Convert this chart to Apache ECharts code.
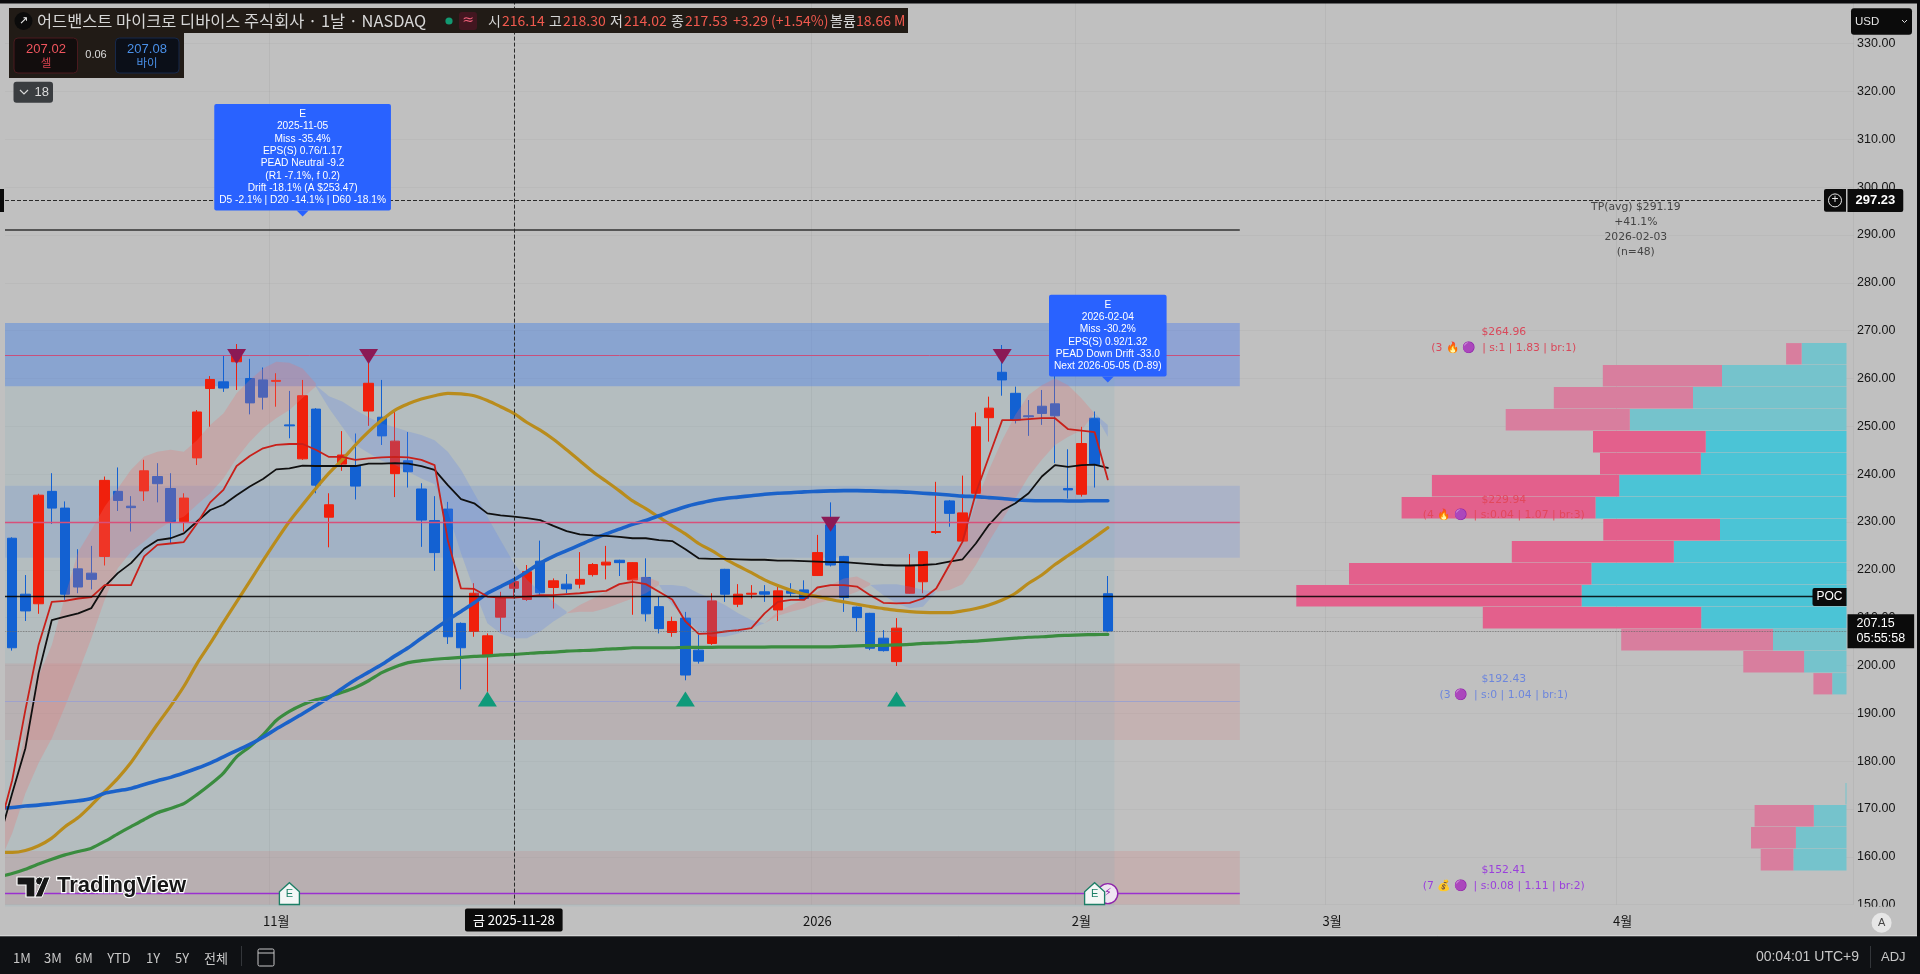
<!DOCTYPE html>
<html><head><meta charset="utf-8"><style>html,body{margin:0;padding:0;background:#c0c0c0;overflow:hidden}#c{width:1920px;height:974px}</style>
<script src="https://cdn.jsdelivr.net/npm/echarts@6/dist/echarts.min.js"></script></head><body><div id="c"></div>
<script>
// Values: prices. Trading-day index 0 = 2025-10-06; ordinal = index + 1.
const tickLabels = {21:'11월',62:'2026',82:'2월',101:'3월',123:'4월'};
const priceTicks = {min:150,max:340,step:10};
// [open, close, low, high]
const candles = [
[226.6,203.7,203.1,226.8],[214.9,211.4,209.3,218.9],[212.9,235.6,210.8,235.9],[236.4,232.9,229.6,240.2],[232.9,214.9,213.7,234.3],
[220.2,216.4,215.1,224.3],[219.3,218.0,215.9,225.0],[222.8,238.7,220.9,239.5],[236.4,234.5,232.3,241.4],[233.3,233.0,228.0,235.4],
[236.5,240.7,234.4,243.0],[239.5,238.0,234.1,242.3],[237.0,230.1,225.5,240.2],[230.1,235.0,228.0,236.0],[243.4,253.0,241.9,253.4],
[257.9,259.8,249.9,260.5],[259.3,258.0,257.2,264.7],[263.5,264.9,257.6,267.2],[260.0,254.9,252.5,264.1],[259.7,256.1,253.5,262.3],
[259.4,259.6,254.1,261.1],[250.3,250.1,247.5,257.4],[243.2,256.4,243.0,259.7],[253.6,237.7,236.0,253.8],[231.0,233.6,224.7,236.0],
[242.1,244.0,240.7,249.0],[241.7,237.5,234.7,248.5],[253.2,259.0,250.1,264.0],[251.9,248.0,246.1,259.7],[240.1,246.9,235.2,253.4],
[242.8,240.5,237.2,248.8],[236.9,230.4,224.8,238.1],[230.3,223.6,219.8,235.4],[232.7,206.0,204.5,234.2],[208.8,203.7,195.0,209.0],
[207.1,215.1,206.0,217.2],[202.0,206.2,194.5,206.7],[210.1,214.2,207.1,215.4],[216.14,217.53,214.02,218.30],[213.8,219.6,213.5,221.0],
[221.8,215.2,214.7,226.1],[216.3,217.7,211.9,218.2],[217.0,216.0,215.1,219.1],[217.0,218.0,216.1,223.7],[219.0,221.1,218.6,221.4],
[221.0,221.6,218.0,225.0],[222.0,221.5,218.7,222.1],[217.9,221.5,210.6,221.6],[218.4,210.8,209.2,222.4],[212.3,207.7,206.7,214.4],
[206.9,209.2,206.0,210.2],[209.9,198.0,196.9,211.2],[203.2,200.9,200.4,206.4],[204.6,213.5,204.3,215.1],[220.1,214.9,213.3,220.2],
[212.8,214.9,212.2,217.0],[214.9,215.1,214.0,216.8],[215.4,214.9,213.3,216.8],[211.6,215.6,209.3,216.5],[215.6,215.1,214.4,217.2],
[215.8,214.0,213.7,217.8],[218.8,223.6,218.7,227.3],[229.4,221.0,220.7,234.1],[222.8,214.2,211.2,222.9],[212.2,210.0,207.1,212.3],
[210.9,203.6,203.2,211.0],[205.7,203.1,202.9,207.4],[200.8,207.8,199.9,209.9],[215.1,220.9,215.0,223.3],[217.5,223.8,215.1,223.9],
[227.8,228.0,227.5,238.4],[234.4,231.8,229.0,234.6],[226.0,231.9,225.8,239.7],[236.0,249.9,235.6,252.9],[251.8,253.8,246.8,256.2],
[261.3,259.7,256.4,267.0],[256.9,251.3,250.6,258.3],[252.2,252.0,248.0,255.5],[254.2,252.7,250.3,257.6],[254.7,252.2,242.3,260.7],
[237.0,236.7,234.9,245.2],[235.8,246.4,235.3,249.9],[251.7,242.0,237.2,253.1],[215.0,207.2,207.0,218.7]];
// moving lines, first value at index -1
const redLine = [165.6,176.0,190.7,204.3,213.3,213.5,214.0,214.3,216.8,216.8,216.8,222.8,225.2,225.5,225.8,229.7,234.1,236.7,241.7,243.8,245.4,246.1,246.3,246.3,245.1,243.6,243.6,243.0,243.3,243.5,243.6,243.5,243.0,241.9,226.2,216.1,216.0,214.4,214.2,214.2,214.4,214.7,214.7,214.9,215.1,215.4,215.6,217.0,217.5,
217.0,215.4,213.8,209.2,206.6,206.7,207.1,207.4,207.8,210.9,213.3,213.7,213.7,216.3,216.8,216.8,216.5,214.7,213.1,213.0,213.1,214.0,216.1,221.0,225.9,236.0,243.7,251.3,251.3,251.5,251.7,251.7,249.4,249.1,248.8,238.9];
const blackLine = [163.5,173.3,182.7,198.4,209.5,210.2,210.9,212.0,216.5,219.3,221.4,224.4,226.2,226.6,227.6,230.1,232.5,233.6,235.6,237.4,239.0,241.0,241.2,241.8,241.7,241.7,241.7,241.7,242.2,242.2,242.3,242.2,241.7,240.9,237.7,234.8,233.9,231.8,231.4,231.1,230.8,230.4,229.2,228.1,227.4,227.2,227.1,226.9,226.6,
226.6,226.2,226.0,224.3,222.4,222.3,222.3,222.2,222.1,222.1,221.9,221.9,221.8,221.7,221.6,221.6,221.4,221.2,221.0,220.9,220.9,221.0,221.2,221.7,222.2,225.5,229.4,232.4,233.9,236.0,239.5,241.9,241.5,241.9,242.0,241.3];
const blueLine = [170.2,170.3,170.6,170.8,171.1,171.4,171.7,172.2,173.3,173.8,174.3,175.1,175.9,176.6,177.5,178.5,179.6,180.9,182.2,183.5,185.0,186.7,188.3,189.9,191.6,193.3,195.2,197.0,198.6,200.2,202.0,203.7,205.7,207.6,209.5,211.3,213.1,215.1,216.5,217.9,219.6,221.4,222.8,224.0,225.2,226.4,227.5,228.5,229.5,
230.3,231.3,232.3,233.2,233.9,234.5,234.9,235.2,235.5,235.8,236.0,236.1,236.3,236.4,236.5,236.55,236.55,236.5,236.4,236.35,236.2,236.0,235.85,235.65,235.4,235.3,235.1,234.9,234.65,234.5,234.45,234.45,234.4,234.4,234.45,234.45];
const goldLine = [160.9,160.9,161.3,162.3,163.9,166.3,168.2,170.8,173.6,176.4,179.7,183.7,187.7,191.5,195.6,200.4,204.6,209.0,213.3,217.6,221.9,226.1,230.1,233.6,237.0,240.2,243.0,246.1,248.9,251.3,253.4,254.7,255.7,256.4,256.9,256.8,256.4,255.4,254.1,252.7,250.8,249.2,247.3,245.1,242.8,240.5,238.5,236.5,234.4,
232.8,231.0,229.2,227.5,225.5,224.0,222.3,220.8,219.4,217.9,216.7,215.7,214.9,214.4,213.8,213.3,212.8,212.3,211.9,211.5,211.25,211.1,211.05,211.05,211.4,211.9,212.65,213.7,215.1,217.2,218.9,221.1,223.0,224.85,226.8,228.8];
const greenLine = [155.8,156.5,157.4,158.5,159.5,160.4,161.1,161.8,163.2,164.8,166.3,167.8,169.2,170.1,171.1,173.0,175.1,177.5,180.9,183.0,185.5,188.5,190.4,191.8,192.8,193.5,194.4,195.4,196.8,198.5,199.7,200.6,201.0,201.3,201.5,201.7,201.9,202.0,202.2,202.3,202.5,202.7,202.8,203.0,203.1,203.2,203.4,203.5,203.7,
203.7,203.7,203.7,203.8,203.8,203.8,203.85,203.85,203.85,203.85,203.9,203.9,203.9,203.9,203.9,204.0,204.1,204.15,204.2,204.3,204.4,204.6,204.7,204.8,205.0,205.1,205.3,205.5,205.7,205.9,206.0,206.2,206.3,206.4,206.45,206.5];
// ribbons: first index, upper edge, lower edge, tone
const ribbonStarts = [-1,23,42,49,57,65,70,82];
const ribbonTones  = ['up','down','up','down','up','down','up','down'];
const ribbonUppers = [
[164.9,172.6,186.5,197.7,204.3,214.4,223.8,228.3,233.2,237.0,240.9,243.7,244.7,245.1,244.7,247.1,250.3,252.7,256.9,259.7,262.1,263.5,263.3,262.1,259.0],
[258.6,256.3,255.2,253.4,251.9,250.6,249.8,248.9,248.2,247.1,244.7,240.9,236.0,231.1,226.2,221.4,217.9,215.4,213.3,211.3],
[210.9,212.65,214.0,215.4,216.8,218.2,218.6,217.5],
[216.8,216.8,216.5,215.1,214.0,212.65,210.9,209.5,208.8],
[208.8,211.25,212.65,213.7,215.4,216.8,218.2,218.6,217.2],
[216.8,217.0,217.0,216.5,215.8,215.4],
[215.4,222.0,225.5,233.9,240.9,247.1,252.4,256.55,258.6,260.0,258.6,255.85,252.7],
[252.7,250.3]];
const ribbonLowers = [
[158.6,164.9,173.3,179.6,184.8,191.4,198.4,205.7,213.7,220.3,223.8,225.9,228.3,230.1,231.1,233.6,236.0,239.1,243.3,246.8,249.6,251.7,253.4,255.9,258.3],
[258.3,253.8,249.9,246.1,244.4,242.8,241.9,240.5,239.1,237.9,232.2,223.45,215.8,208.8,206.7,205.7,205.7,207.1,209.2,210.9],
[210.9,211.25,211.25,211.95,213.0,214.0,215.1,216.8],
[216.8,212.65,209.9,207.1,206.0,206.0,206.7,207.8,208.8],
[208.8,210.4,211.25,211.95,213.0,213.7,214.4,215.4,216.8],
[216.8,214.7,213.0,211.95,212.3,215.4],
[215.4,215.8,217.0,221.0,225.9,230.4,234.9,239.5,243.0,246.1,247.8,249.2,252.7],
[252.7,247.8]];
// zones and levels
const zoneTop = {hi:271.6,lo:258.4}, zoneMid = {hi:237.6,lo:222.5}, zoneLow = {hi:200.4,lo:184.4}, zoneBase = {hi:161.2,lo:149.6};
const levels = {tp:291.19,res1:264.96,res2:229.94,sup1:192.43,sup2:152.41,poc:214.4,last:207.15,cross:297.23};
// volume profile rows
const vpBinTop  = [267.4,262.8,258.2,253.6,249.0,244.4,239.8,235.2,230.6,226.0,221.4,216.8,212.2,207.6,203.0,198.4,175.4,170.8,166.2,161.6];
const vpBinSize = 4.6;
const vpBuy     = [44.9,124.5,153.5,216.7,140.8,145.7,227.3,251,126.5,172.7,255.1,264.9,145.3,73.5,42.4,14.3,1,32.7,50.6,53.1];
const vpSell    = [15.5,119.2,139.2,124.1,112.7,100.8,187.3,193.9,116.7,162,242.4,285.3,218.4,151.8,60.8,18.8,0,59.2,44.9,32.7];
const vpInValueArea = [0,0,0,0,1,1,1,1,1,1,1,1,1,0,0,0,0,0,0,0];
// signals
const sellSignals = [[17,264.6],[27,264.6],[75,264.6],[62,229.5]];
const buySignals  = [[36,193.0],[51,193.0],[67,193.0]];
const earningsIdx = [21,82];
const noteA = ['E','2025-11-05','Miss -35.4%','EPS(S) 0.76/1.17','PEAD Neutral -9.2','(R1 -7.1%, f 0.2)','Drift -18.1% (A $253.47)','D5 -2.1% | D20 -14.1% | D60 -18.1%'];
const noteB = ['E','2026-02-04','Miss -30.2%','EPS(S) 0.92/1.32','PEAD Down Drift -33.0','Next 2026-05-05 (D-89)'];
const tpNote = ['TP(avg) $291.19','+41.1%','2026-02-03','(n=48)'];
const sideNotes = [
 {y:268.0,c:'#d9485a',t:'$264.96\n(3 🔥 🟣  | s:1 | 1.83 | br:1)'},
 {y:233.0,c:'#e2485c',t:'$229.94\n(4 🔥 🟣  | s:0.04 | 1.07 | br:3)'},
 {y:195.5,c:'#6d86dc',t:'$192.43\n(3 🟣  | s:0 | 1.04 | br:1)'},
 {y:155.5,c:'#9a3fdc',t:'$152.41\n(7 💰 🟣  | s:0.08 | 1.11 | br:2)'}];

const N = 141, X = i => i + 1;
const categories = Array.from({length:N},(_,i)=>tickLabels[i]||'');
const FONT = '"Liberation Sans","Noto Sans CJK KR",sans-serif';
const KR = '"Noto Sans CJK KR","Liberation Sans",sans-serif';
const GRID = {left:-7.6,right:66.4,top:-4.13,bottom:69.4,outerBoundsMode:'none'};
const lineS = (name,arr,color,w,smooth)=>({type:'line',name,data:arr.map((v,i)=>[i,v]),symbol:'none',smooth:smooth||false,z:5,
  lineStyle:{color,width:w,cap:'round',join:'round'},silent:true,animation:false});

const ribbons = ribbonStarts.map((s,k)=>{
  const up = ribbonUppers[k], lo = ribbonLowers[k];
  const rows = up.map((u,i)=>[X(s+i),u,lo[i]]);
  return {type:'custom',z:3,silent:true,animation:false,clip:true,data:rows,encode:{x:0,y:[1,2]},
    renderItem:(p,api)=>{
      if(p.dataIndex!==0) return null;
      const pts=[]; rows.forEach(r=>pts.push(api.coord([r[0],r[1]])));
      rows.slice().reverse().forEach(r=>pts.push(api.coord([r[0],r[2]])));
      return {type:'polygon',shape:{points:pts},style:{fill:ribbonTones[k]==='up'?'rgba(238,110,110,0.27)':'rgba(88,130,240,0.24)'}};
    }};
});

const lvl=(y,to,color,w,type)=>[{coord:[0,y],lineStyle:{color,width:w,type:type||'solid'},symbol:'none'},{coord:[X(to),y],symbol:'none'}];
const textStyleNote = {color:'#fff',fontFamily:FONT,fontSize:10.2,lineHeight:12.3,align:'center',backgroundColor:'#2962ff',padding:[4,5],borderRadius:2};
const tag=(idx,y,txt,pos,extra)=>({value:[X(idx),y],label:Object.assign({show:true,position:pos,distance:0,formatter:txt,color:'#fff',fontFamily:FONT,fontSize:13,backgroundColor:'#0b0b0b'},extra||{})});

const option = {
 animation:false,backgroundColor:'#c0c0c0',
 grid:[Object.assign({containLabel:false},GRID),{left:1346.5,width:500,top:GRID.top,bottom:GRID.bottom,outerBoundsMode:'none'}],
 xAxis:[{type:'category',data:categories,gridIndex:0,axisTick:{show:false},axisLine:{show:false},
   axisLabel:{interval:0,color:'#141414',fontFamily:KR,fontSize:13,margin:10,hideOverlap:false},
   splitLine:{show:true,interval:i=>!!tickLabels[i],lineStyle:{color:'rgba(0,0,0,0.045)'}}},
  {type:'value',gridIndex:1,min:0,max:500,inverse:true,show:false}],
 yAxis:[{type:'value',position:'right',gridIndex:0,min:priceTicks.min,max:priceTicks.max,interval:priceTicks.step,axisLine:{show:false},axisTick:{show:false},
   axisLabel:{color:'#141414',fontFamily:FONT,fontSize:12.5,margin:3.5,formatter:v=>v.toFixed(2)},
   splitLine:{lineStyle:{color:'rgba(0,0,0,0.03)'}}},
  {type:'value',gridIndex:1,min:priceTicks.min,max:priceTicks.max,show:false}],
 graphic:{elements:chrome()},
 series:[
  {type:'custom',z:1,silent:true,clip:false,data:[[X(83),zoneTop.hi,zoneBase.lo]],encode:{x:0,y:[1,2]},
   renderItem:(p,api)=>{
     const a=api.coord([0,api.value(1)]),b=api.coord([api.value(0),api.value(2)]),half=api.size([1,0])[0]/2;
     return {type:'rect',shape:{x:a[0],y:a[1],width:b[0]+half-a[0],height:b[1]-a[1]},style:{fill:'rgba(100,175,192,0.12)'}};
   }},
  {type:'line',data:[],z:1,clip:false,silent:true,markArea:{silent:true,z:1,data:[
    [{coord:[0,zoneTop.hi],itemStyle:{color:'rgba(70,120,240,0.40)'}},{coord:[X(93),zoneTop.lo]}],
    [{coord:[0,zoneMid.hi],itemStyle:{color:'rgba(70,120,240,0.17)'}},{coord:[X(93),zoneMid.lo]}],
    [{coord:[0,zoneLow.hi],itemStyle:{color:'rgba(220,100,100,0.15)'}},{coord:[X(93),zoneLow.lo]}],
    [{coord:[0,zoneBase.hi],itemStyle:{color:'rgba(220,100,100,0.17)'}},{coord:[X(93),zoneBase.lo]}]
  ]}},
  {type:'candlestick',z:2,barWidth:10,encode:{x:0,y:[1,2,3,4]},data:candles.map((c,i)=>[X(i),c[0],c[1],c[2],c[3]]),silent:true,
   itemStyle:{color:'#f0200c',color0:'#1361d2',borderColor:'#f0200c',borderColor0:'#1361d2',borderWidth:1}},
  ...ribbons,
  {type:'custom',xAxisIndex:1,yAxisIndex:1,z:3,silent:true,clip:false,
   data:vpBinTop.map((t,i)=>[t,vpBuy[i],vpSell[i],vpInValueArea[i]]),encode:{x:[1,2],y:0},
   renderItem:(p,api)=>{
     const t=api.value(0),b=api.value(1),s=api.value(2),va=api.value(3);
     const a=api.coord([0,t]),c=api.coord([b,t-vpBinSize]),d=api.coord([b+s,t]);
     const h=c[1]-a[1]-0.7;
     return {type:'group',children:[
       {type:'rect',shape:{x:c[0],y:a[1],width:a[0]-c[0],height:h},style:{fill:va?'#4bc4d6':'#75c3cc'}},
       {type:'rect',shape:{x:d[0],y:a[1],width:c[0]-d[0],height:h},style:{fill:va?'#e3608c':'#d87e9e'}}]};
   }},
  lineS('green',greenLine,'#3a8c3f',3.2,0.2),
  lineS('gold',goldLine,'#b98c1c',3.2,0.3),
  lineS('blue',blueLine,'#1b62c9',3.6,0.3),
  lineS('black',blackLine,'#101010',1.8),
  lineS('red',redLine,'#c8201a',1.8),
  {type:'line',data:[],z:6,silent:true,clip:false,markLine:{silent:true,symbol:'none',z:6,animation:false,data:[
    lvl(levels.tp,93,'#333',1.6),
    lvl(levels.res1,93,'#c8507c',1),
    lvl(levels.res2,93,'#d8507a',1.4),
    lvl(levels.sup1,93,'#9ea2cc',1),
    lvl(levels.sup2,93,'#9a30d0',1.4),
    lvl(levels.poc,136.6,'rgba(0,0,0,0.85)',1.3),
    lvl(levels.last,139,'#666',0.8,'dotted'),
    lvl(levels.cross,137.2,'#2a2a2a',1,'dashed'),
    {xAxis:X(38),lineStyle:{color:'#2a2a2a',width:1,type:'dashed'},
     label:{show:true,position:'start',distance:4,formatter:'금 2025-11-28',color:'#fff',fontFamily:KR,fontSize:13,backgroundColor:'#0b0b0b',padding:[5,8],borderRadius:2}}
  ]}},
  {type:'scatter',z:6,silent:true,symbol:'triangle',symbolRotate:180,symbolSize:[19,15],itemStyle:{color:'#8b1a55',opacity:1},data:sellSignals.map(s=>[X(s[0]),s[1]])},
  {type:'scatter',z:6,silent:true,symbol:'triangle',symbolSize:[19,15],itemStyle:{color:'#0f9a7a',opacity:1},data:buySignals.map(s=>[X(s[0]),s[1]])},
  {type:'scatter',z:7,silent:true,clip:false,symbol:'path://M0 5 L5 0 L10 5 V12 H0Z',symbolSize:[20,22],itemStyle:{color:'#f4f7f6',borderColor:'#1c7f66',borderWidth:1.4,opacity:1},
   label:{show:true,position:'inside',formatter:'E',color:'#1c7f66',fontFamily:FONT,fontSize:11},
   data:[[X(earningsIdx[0]),152.3],[X(earningsIdx[1]),152.3]]},
  {type:'scatter',z:6.5,silent:true,clip:false,symbol:'circle',symbolSize:20,itemStyle:{color:'#efe6f2',borderColor:'#8e24aa',borderWidth:1.4,opacity:1},
   label:{show:true,position:'inside',formatter:'⚡',color:'#8e24aa',fontSize:11,fontFamily:'"DejaVu Sans"'},data:[[X(83.1),152.3]]},
  {type:'scatter',z:8,silent:true,clip:false,symbol:'triangle',symbolRotate:180,symbolSize:[12,6],itemStyle:{color:'#2962ff',opacity:1},
   data:[{value:[X(22),294.5],label:Object.assign({show:true,position:'top',distance:0,formatter:noteA.join('\n')},textStyleNote)},
         {value:[X(83),259.8],label:Object.assign({show:true,position:'top',distance:0,formatter:noteB.join('\n')},textStyleNote)}]},
  {type:'scatter',z:8,silent:true,clip:false,symbolSize:1,itemStyle:{color:'transparent',opacity:1},
   data:sideNotes.map(n=>({value:[X(113),n.y],label:{show:true,position:'inside',formatter:n.t,color:n.c,fontFamily:'"DejaVu Sans","Noto Sans CJK KR"',fontSize:10.8,lineHeight:15.5,align:'center'}}))
    .concat([{value:[X(123),levels.tp],label:{show:true,position:'inside',formatter:tpNote.join('\n'),color:'#444',fontFamily:'"DejaVu Sans"',fontSize:10.8,lineHeight:15,align:'center'}}])},
  {type:'scatter',z:9,silent:true,clip:false,symbolSize:1,itemStyle:{color:'transparent',opacity:1},data:[
    tag(139,levels.cross,'297.23','right',{padding:[5,8],fontWeight:'bold',borderRadius:[0,2,2,0]}),
    tag(139,levels.last,'207.15\n05:55:58','right',{padding:[2,9],lineHeight:15,fontSize:12.5}),
    tag(139,214.3,'POC','left',{padding:[3,4],fontSize:12,borderRadius:[2,0,0,2]})
  ]}
 ]
};

function chrome(){
 const R=(x,y,w,h,fill,z,r,stroke)=>({type:'rect',z:z||100,silent:true,shape:{x,y,width:w,height:h,r:r||0},style:{fill,stroke:stroke||null,lineWidth:1}});
 const T=(x,y,text,fill,size,align,font,weight,z)=>({type:'text',z:z||101,silent:true,x,y,style:{text,fill,font:(weight||'normal')+' '+size+'px '+(font||KR),textAlign:align||'left',textVerticalAlign:'middle'}});
 const hdr='#211b16', sR='#f0594e', sW='#d6d6d6';
 const header=[['어드밴스트 마이크로 디바이스 주식회사 · 1날 · NASDAQ',37,sW,16.4],['시',488,sW,14],['216.14',502,sR,14],['고',549,sW,14],['218.30',563,sR,14],['저',610,sW,14],['214.02',624,sR,14],['종',671,sW,14],['217.53',685,sR,14],['+3.29 (+1.54%)',733,sR,14],['볼륨',830,sW,14],['18.66 M',856,sR,14]];
 const bottomL=[['1M',22],['3M',53],['6M',84],['YTD',119],['1Y',153],['5Y',182],['전체',216]];
 return [
  R(0,0,1920,3.5,'#0a0a0c',100),
  R(0,4,5,903,'#c0c0c0',100),
  R(0,189,4,23,'#0b0b0b',101),
  R(1917,0,3,974,'#0a0a0c',100),
  R(1848,906.7,69,29,'#c0c0c0',100),
  R(0,936,1920,38,'#0f1114',100),
  {type:'line',z:101,silent:true,shape:{x1:0,y1:935.8,x2:1917,y2:935.8},style:{stroke:'#dcdcdc',lineWidth:1}},
  R(9,8,899,25,hdr,100),
  R(9,33,175,45,hdr,100),
  {type:'circle',z:101,silent:true,shape:{cx:23.5,cy:21,r:9},style:{fill:'#0b0b0b'}},
  T(23.5,21,'↗','#eee',11,'center','"DejaVu Sans"'),
  ...header.map(h=>T(h[1],21,h[0],h[2],h[3])),
  {type:'circle',z:101,silent:true,shape:{cx:449,cy:21,r:3.6},style:{fill:'#129a72'}},
  R(459,12,18,18,'#421620',101,3),
  T(468,20,'≈','#f0607a',14,'center','"DejaVu Sans"','normal',102),
  R(14,38,63.5,35,'#120d0d',101,4,'#4a1a1e'),
  R(115.5,38,63.5,35,'#0b0f18',101,4,'#16284a'),
  T(46,49,'207.02','#f0555e',13,'center',FONT,'normal',102),
  T(46,63,'셀','#d8434f',11.5,'center',KR,'normal',102),
  T(96,55,'0.06','#dcdcdc',11,'center',FONT,'normal',102),
  T(147,49,'207.08','#4a90e8',13,'center',FONT,'normal',102),
  T(147,63,'바이','#4a90e8',11.5,'center',KR,'normal',102),
  R(13.5,81.7,39.5,21,'#3a3d40',100,3),
  {type:'polyline',z:101,silent:true,shape:{points:[[20,90],[24,94],[28,90]]},style:{stroke:'#d8d8d8',lineWidth:1.2,fill:null}},
  T(34.5,92,'18','#dcdcdc',13,'left',FONT),
  R(1851,8.3,61,26.4,'#0b0b0b',100,3),
  T(1855,21.5,'USD','#e4e4e4',11.5,'left',FONT),
  {type:'polyline',z:101,silent:true,shape:{points:[[1902,20],[1904.5,22.5],[1907,20]]},style:{stroke:'#e0e0e0',lineWidth:1,fill:null}},
  R(1824,189,22,22.7,'#0b0b0b',100,[2,0,0,2]),
  {type:'circle',z:101,silent:true,shape:{cx:1835,cy:200.4,r:6.5},style:{fill:null,stroke:'#e8e8e8',lineWidth:1}},
  T(1835,200,'+','#e8e8e8',12,'center',FONT),
  {type:'circle',z:101,silent:true,shape:{cx:1881.6,cy:922.7,r:10},style:{fill:'#e6e6e6'}},
  T(1881.6,923,'A','#444',11,'center',FONT),
  ...bottomL.map(b=>T(b[1],958,b[0],'#c8c8c8',13,'center',KR)),
  R(241,946,1,20,'#33363a',101),
  {type:'rect',z:101,silent:true,shape:{x:258,y:949,width:16,height:17,r:1.5},style:{fill:null,stroke:'#c8c8c8',lineWidth:1}},
  {type:'line',z:101,silent:true,shape:{x1:258,y1:953,x2:274,y2:953},style:{stroke:'#c8c8c8',lineWidth:1}},
  T(1859,957,'00:04:01 UTC+9','#c8c8c8',14,'right',FONT),
  R(1870,946,1,22,'#33363a',101),
  T(1881,957,'ADJ','#c8c8c8',13,'left',FONT),
  // TradingView mark
  {type:'polygon',z:101,silent:true,shape:{points:[[17,877],[35,877],[35,897],[26,897],[26,885],[17,885]]},style:{fill:'#161616',stroke:'#fff',lineWidth:1.2}},
  {type:'circle',z:101,silent:true,shape:{cx:39.5,cy:881,r:4},style:{fill:'#161616',stroke:'#fff',lineWidth:1}},
  {type:'polygon',z:101,silent:true,shape:{points:[[44,877],[50,877],[42,897],[35,897]]},style:{fill:'#161616',stroke:'#fff',lineWidth:1}},
  {type:'text',z:101,silent:true,x:57,y:886,style:{text:'TradingView',fill:'#161616',stroke:'#fff',lineWidth:2.4,font:'bold 22px "Liberation Sans"',textVerticalAlign:'middle'}}
 ];
}

const chart = echarts.init(document.getElementById('c'),null,{renderer:'canvas',width:1920,height:974});
chart.setOption(option);
</script></body></html>
